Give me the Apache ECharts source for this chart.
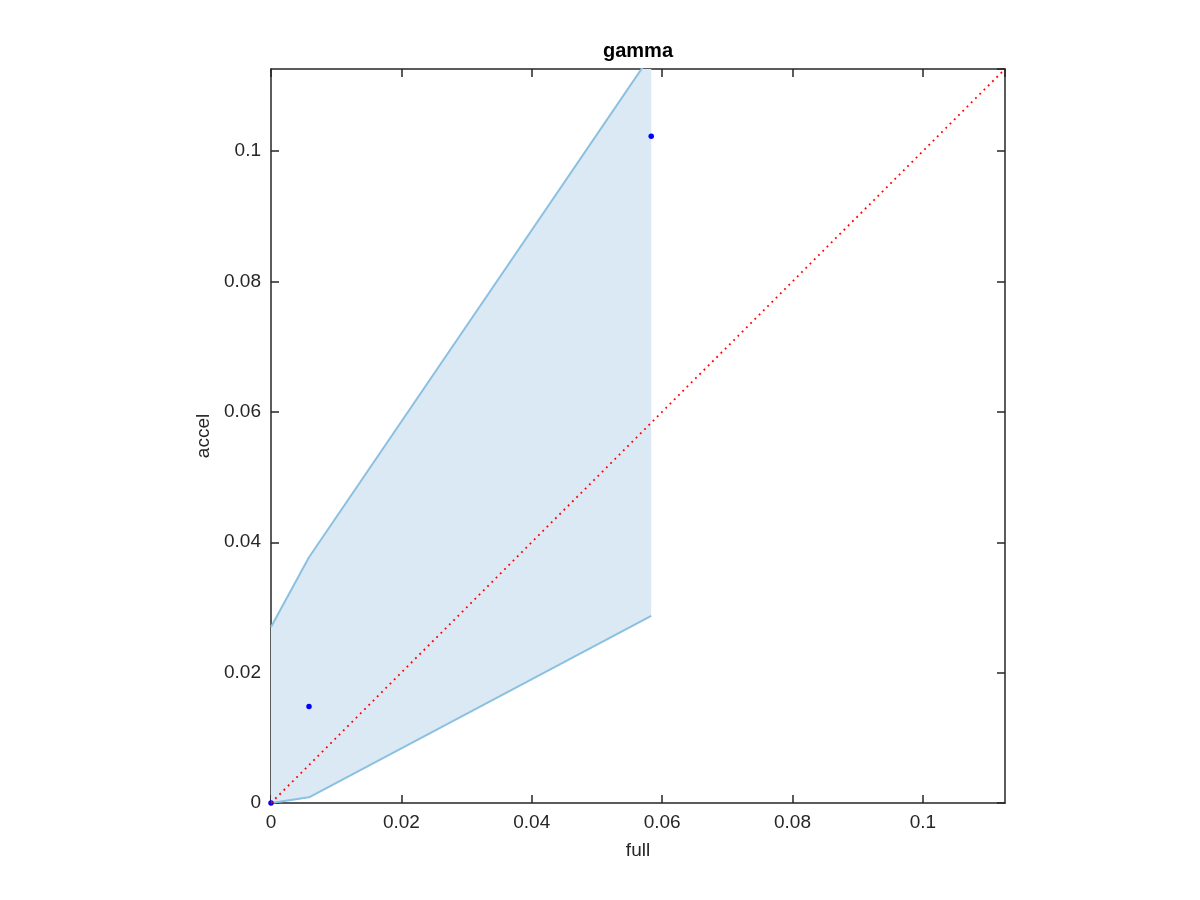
<!DOCTYPE html>
<html>
<head>
<meta charset="utf-8">
<script src="https://cdn.jsdelivr.net/npm/echarts@6/dist/echarts.min.js"></script>
<style>html,body{margin:0;padding:0;background:#fff}#c{width:1200px;height:900px}</style>
</head>
<body>
<div id="c"></div>
<script>
// Data
const full = [0, 0.00583, 0.05833];
const accel = [0, 0.0148, 0.1023];
const bandLower = [0, 0.00087, 0.0287];
const bandUpper = [0.027, 0.0377, 0.1148];
const axisMax = 0.1126;
const diagonal = [0, axisMax];
const tickStep = 0.02;

const lowerPts = full.map((x, i) => [x, bandLower[i]]);
const upperPts = full.map((x, i) => [x, bandUpper[i]]);
const dotPts = full.map((x, i) => [x, accel[i]]);
const diagPts = diagonal.map(v => [v, v]);
const bandRows = full.map((x, i) => [x, bandLower[i], bandUpper[i]]);

const FONT = 'Liberation Sans';
const AX = '#262626';

const baseAxis = {
  type: 'value', min: 0, max: axisMax, interval: tickStep,
  axisLine: { show: true, onZero: false, lineStyle: { color: AX, width: 1.5 } },
  axisTick: { show: true, inside: true, length: 8, lineStyle: { color: AX, width: 1.5 } },
  splitLine: { show: false },
};

const chart = echarts.init(document.getElementById('c'));
chart.setOption({
  animation: false,
  backgroundColor: '#fff',
  grid: { left: 271, top: 69, width: 734, height: 734, containLabel: false },
  xAxis: [
    Object.assign({}, baseAxis, {
      position: 'bottom',
      name: 'full', nameLocation: 'middle', nameGap: 38,
      nameTextStyle: { fontFamily: FONT, fontSize: 19, color: AX },
      axisLabel: { fontFamily: FONT, fontSize: 19, color: AX, margin: 10, showMaxLabel: false }
    }),
    Object.assign({}, baseAxis, {
      position: 'top',
      name: 'gamma', nameLocation: 'middle', nameGap: 8,
      nameTextStyle: { fontFamily: FONT, fontSize: 20, fontWeight: 'bold', color: '#000' },
      axisLabel: { show: false }
    })
  ],
  yAxis: [
    Object.assign({}, baseAxis, {
      position: 'left',
      name: 'accel', nameLocation: 'middle', nameGap: 56,
      nameTextStyle: { fontFamily: FONT, fontSize: 19, color: AX },
      axisLabel: { fontFamily: FONT, fontSize: 19, color: AX, margin: 10, showMaxLabel: false }
    }),
    Object.assign({}, baseAxis, {
      position: 'right',
      axisLabel: { show: false }
    })
  ],
  series: [
    {
      type: 'custom', clip: true, silent: true, z: 1,
      data: bandRows,
      renderItem: function (params, api) {
        if (params.dataIndex !== 0) return null;
        const pts = [];
        for (let i = 0; i < bandRows.length; i++) pts.push(api.coord([bandRows[i][0], bandRows[i][1]]));
        for (let i = bandRows.length - 1; i >= 0; i--) pts.push(api.coord([bandRows[i][0], bandRows[i][2]]));
        return { type: 'polygon', shape: { points: pts }, style: { fill: '#dae9f4', stroke: null } };
      }
    },
    {
      type: 'line', data: upperPts, symbol: 'none', clip: true,
      lineStyle: { color: '#8cc0e1', width: 2 }, z: 2
    },
    {
      type: 'line', data: lowerPts, symbol: 'none', clip: true,
      lineStyle: { color: '#8cc0e1', width: 2 }, z: 2
    },
    {
      type: 'scatter', data: dotPts, symbol: 'circle', symbolSize: 5.5, clip: false,
      itemStyle: { color: '#0000ff', opacity: 1 }, z: 3
    },
    {
      type: 'line', data: diagPts, symbol: 'none', clip: true,
      lineStyle: { color: '#ff0000', width: 1.8, type: [1.8, 4.2] }, z: 4
    }
  ]
});
</script>
</body>
</html>
